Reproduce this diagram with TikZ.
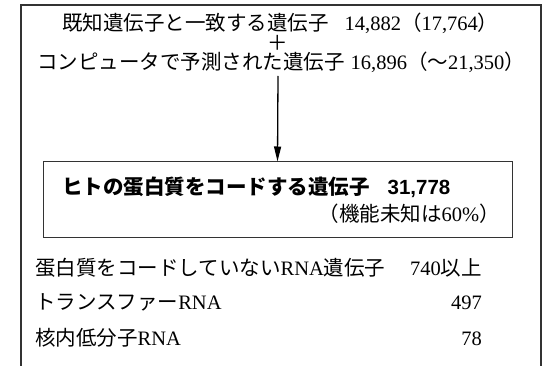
\documentclass[tikz,border=0pt]{standalone}
\usepackage{fontspec}
\setmainfont{Liberation Serif}
\newfontfamily\jp{Noto Sans CJK JP}
\newfontfamily\hv{Liberation Sans}
\usetikzlibrary{arrows.meta}
\begin{document}
\begin{tikzpicture}[x=1pt,y=-1pt,
  frame/.style={draw=black!80,line width=1.3pt},
  txt/.style={inner sep=0pt,font=\fontsize{20.5}{22}\selectfont},
  boxtxt/.style={inner sep=0pt,font=\fontsize{20.5}{22}\selectfont\bfseries},
  flow/.style={draw=black,line width=1.3pt,-{Triangle[length=15pt,width=7pt]}},
  mainbox/.style={draw=black!80,line width=1pt,minimum width=469pt,minimum height=76pt,inner sep=0pt}]
\useasboundingbox (0,0) rectangle (552,366);
\coordinate (fbl) at (21,366);
\coordinate (ftl) at (21,5);
\coordinate (ftr) at (541,5);
\coordinate (fbr) at (541,366);
\draw[frame] (fbl) -- (ftl) -- (ftr) -- (fbr);

\node[txt,anchor=base west] (known) at (62,31) {{\jp 既知遺伝子と一致する遺伝子}\hspace{16pt}14,882{\jp （}17,764{\jp ）}};
\node[txt] (plus) at (278,43) {\jp ＋};
\node[txt,anchor=base west] (pred) at (37,70) {{\jp コンピュータで予測された遺伝子}\hspace{6pt}16,896{\jp （～}21,350{\jp ）}};

\node[mainbox] (prot) at (277.5,200) {};
\node[boxtxt,anchor=base west] (protlabel) at (62,195) {{\jp ヒトの蛋白質をコードする遺伝子}\hspace{18pt}{\hv\bfseries 31,778}};
\node[txt,anchor=base east] (unknown) at (500,222) {{\jp （機能未知は}60\%{\jp ）}};

\draw[flow] (278,76) coordinate (astart) -- (prot.north);

\node[txt,anchor=base west] (rna) at (35,276) {{\jp 蛋白質をコードしていない}RNA{\jp 遺伝子}};
\node[txt,anchor=base east] (rnan) at (482,276) {740{\jp 以上}};
\node[txt,anchor=base west] (trna) at (35,310) {{\jp トランスファー}RNA};
\node[txt,anchor=base east] (trnan) at (482,310) {497};
\node[txt,anchor=base west] (snrna) at (35,345) {{\jp 核内低分子}RNA};
\node[txt,anchor=base east] (snrnan) at (482,345) {78};
\end{tikzpicture}
\end{document}
